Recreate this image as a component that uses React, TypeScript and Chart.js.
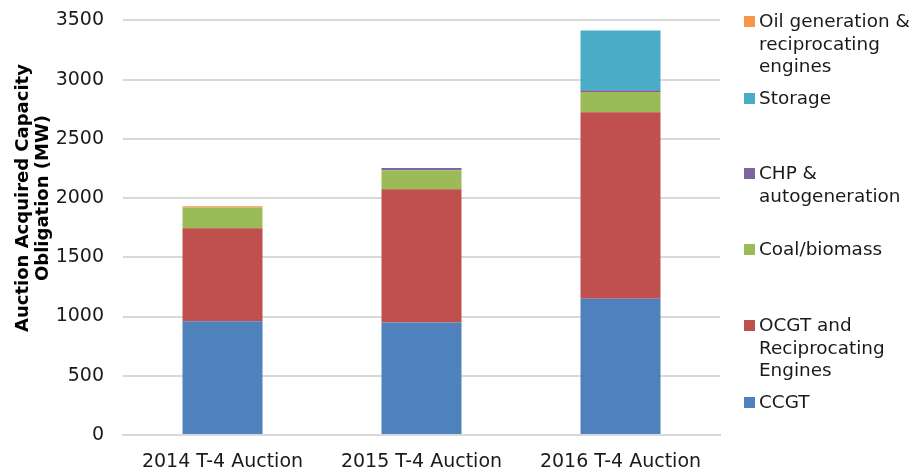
import React, { useEffect, useRef } from "react";
import { Chart, registerables } from "chart.js";

Chart.register(...registerables);

const categories = ["2014 T-4 Auction", "2015 T-4 Auction", "2016 T-4 Auction"];
const ccgt = [960, 950, 1150];
const ocgt = [785, 1125, 1575];
const coal = [175, 160, 170];
const chp = [0, 20, 15];
const storage = [0, 0, 505];
const oil = [12, 0, 0];
const yTicks = [0, 500, 1000, 1500, 2000, 2500, 3000, 3500];
const yTitle = ["Auction Acquired Capacity", "Obligation (MW)"];

const FONT = "'DejaVu Sans', Verdana, sans-serif";

const legendItems = [
  { label: ["Oil generation &", "reciprocating", "engines"], color: "#F79646", top: 10 },
  { label: ["Storage"], color: "#4BACC6", top: 87 },
  { label: ["CHP &", "autogeneration"], color: "#8064A2", top: 162 },
  { label: ["Coal/biomass"], color: "#9BBB59", top: 238 },
  { label: ["OCGT and", "Reciprocating", "Engines"], color: "#C0504D", top: 314 },
  { label: ["CCGT"], color: "#4F81BD", top: 391 },
];

export default function App() {
  const ref = useRef<HTMLCanvasElement | null>(null);
  useEffect(() => {
    if (!ref.current) return;
    const mk = (label: string, data: number[], color: string) => ({
      label,
      data,
      backgroundColor: color,
      borderWidth: 0,
      categoryPercentage: 1,
      barPercentage: 0.402,
    });
    const chart = new Chart(ref.current, {
      type: "bar",
      data: {
        labels: categories,
        datasets: [
          mk("CCGT", ccgt, "#4F81BD"),
          mk("OCGT and Reciprocating Engines", ocgt, "#C0504D"),
          mk("Coal/biomass", coal, "#9BBB59"),
          mk("CHP & autogeneration", chp, "#8064A2"),
          mk("Storage", storage, "#4BACC6"),
          mk("Oil generation & reciprocating engines", oil, "#F79646"),
        ],
      },
      options: {
        animation: false,
        responsive: false,
        maintainAspectRatio: false,
        layout: { padding: { left: 0, right: 195, top: 2, bottom: 0 } },
        plugins: { legend: { display: false }, tooltip: { enabled: false } },
        scales: {
          x: {
            stacked: true,
            grid: { display: false, drawTicks: false },
            border: { display: true, color: "#d9d9d9", width: 2 },
            ticks: { color: "#1a1a1a", font: { family: FONT, size: 19 }, padding: 16 },
            afterFit: (s: any) => {
              s.height = 35;
            },
          },
          y: {
            stacked: true,
            min: 0,
            max: 3500,
            afterBuildTicks: (s: any) => {
              s.ticks = yTicks.map((v) => ({ value: v }));
            },
            grid: { color: "#d9d9d9", lineWidth: 2, drawTicks: false },
            border: { display: false },
            ticks: {
              color: "#1a1a1a",
              font: { family: FONT, size: 19 },
              padding: 19,
              callback: (v: any) => String(v),
            },
            afterFit: (s: any) => {
              s.width = 123;
            },
          },
        },
      },
    });
    return () => chart.destroy();
  }, []);
  return (
    <div style={{ position: "fixed", left: 0, top: 0, width: 915, height: 470, background: "#fff", overflow: "hidden" }}>
      <canvas ref={ref} width={915} height={480} style={{ position: "absolute", left: 0, top: -10 }} />
      <div
        style={{
          position: "absolute",
          left: 32 - 160,
          top: 197.5 - 20,
          width: 320,
          height: 40,
          transform: "rotate(-90deg)",
          transformOrigin: "center center",
          textAlign: "center",
          fontFamily: FONT,
          fontWeight: "bold",
          fontSize: 18,
          lineHeight: "20px",
          color: "#000",
          whiteSpace: "nowrap",
        }}
      >
        {yTitle.map((l, j) => (
          <div key={j}>{l}</div>
        ))}
      </div>
      {legendItems.map((it, i) => (
        <div
          key={i}
          style={{
            position: "absolute",
            left: 744,
            top: it.top,
            fontFamily: FONT,
            fontSize: 18.4,
            lineHeight: "22.5px",
            color: "#1a1a1a",
            whiteSpace: "nowrap",
          }}
        >
          <span
            style={{
              position: "absolute",
              left: 0,
              top: 6,
              width: 11,
              height: 11,
              background: it.color,
            }}
          />
          <div style={{ marginLeft: 15 }}>
            {it.label.map((l, j) => (
              <div key={j}>{l}</div>
            ))}
          </div>
        </div>
      ))}
    </div>
  );
}
